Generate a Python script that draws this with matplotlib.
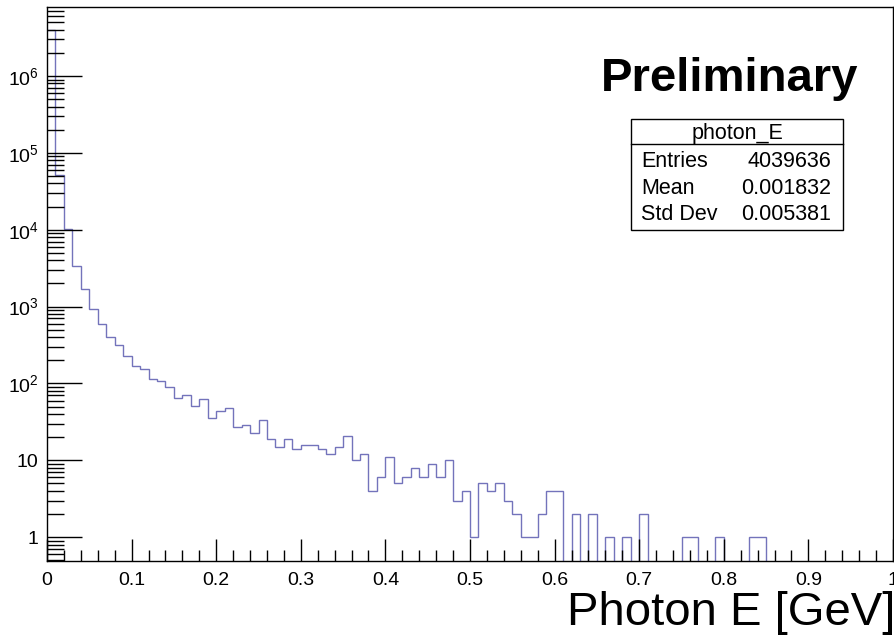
import numpy as np
import matplotlib
matplotlib.use("Agg")
import matplotlib.pyplot as plt
from matplotlib.ticker import FixedLocator, FuncFormatter, LogLocator, NullFormatter

plt.rcParams["font.family"] = ["Liberation Sans", "DejaVu Sans"]

# photon_E histogram: 100 bins of 0.01 GeV from 0 to 1 (counts)
bin_edges = np.linspace(0.0, 1.0, 101)
counts = [
    3970000, 51700, 10150, 3410, 1680, 931, 589, 406, 319, 230,
    170, 153, 116, 107, 91, 65, 70, 51, 62, 36,
    44, 48, 27, 29, 23, 33, 19, 15, 19, 14,
    16, 16, 14, 12, 15, 21, 10, 12, 4, 6,
    11, 5, 6, 8, 6, 9, 6, 10, 3, 4,
    1, 5, 4, 5, 3, 2, 1, 1, 2, 4,
    4, 0, 2, 0, 2, 0, 1, 0, 1, 0,
    2, 0, 0, 0, 0, 1, 1, 0, 0, 1,
    0, 0, 0, 1, 1, 0, 0, 0, 0, 0,
    0, 0, 0, 0, 0, 0, 0, 0, 0, 0,
]
stats_title = "photon_E"
stats_rows = [("Entries", "4039636"), ("Mean", "0.001832"), ("Std Dev", "0.005381")]

x_ticks = [0, 0.1, 0.2, 0.3, 0.4, 0.5, 0.6, 0.7, 0.8, 0.9, 1.0]
x_ticklabels = ["0", "0.1", "0.2", "0.3", "0.4", "0.5", "0.6", "0.7", "0.8", "0.9", "1"]


def log_label(v, pos):
    n = int(round(np.log10(v)))
    if n == 0:
        return "1"
    if n == 1:
        return "10"
    return r"$\mathregular{10^{%d}}$" % n


fig = plt.figure(figsize=(8.94, 6.37), dpi=100)
ax = fig.add_axes([47 / 894, 76 / 637, 846 / 894, 554 / 637])

vals = np.array(counts, dtype=float)
# empty bins go below the axis like ROOT does on a log scale
vals = np.where(vals > 0, vals, 1e-3)
ax.stairs(vals, bin_edges, baseline=None, color="#7373bb", linewidth=1.0)

ax.set_yscale("log")
ax.set_xlim(0, 1)
ax.set_ylim(0.49, 7.9e6)

ax.xaxis.set_major_locator(FixedLocator(x_ticks))
ax.set_xticklabels(x_ticklabels)
ax.xaxis.set_minor_locator(FixedLocator(np.arange(0, 1.001, 0.02)))
ax.yaxis.set_major_locator(LogLocator(base=10, numticks=20))
ax.yaxis.set_minor_locator(LogLocator(base=10, subs=np.arange(2, 10), numticks=20))
ax.yaxis.set_major_formatter(FuncFormatter(log_label))
ax.yaxis.set_minor_formatter(NullFormatter())

ax.tick_params(axis="both", which="both", direction="in", top=False, right=False,
               labelsize=14, width=1.0, color="black")
ax.tick_params(axis="x", which="major", length=16, pad=8)
ax.tick_params(axis="x", which="minor", length=8)
ax.tick_params(axis="y", which="major", length=25, pad=6)
ax.tick_params(axis="y", which="minor", length=12)
for s in ax.spines.values():
    s.set_linewidth(1.0)

# x title, right aligned at the end of the axis
fig.text(895 / 894, 1 - 625 / 637, "Photon E [GeV]", ha="right", va="baseline", fontsize=34)

# Preliminary label
fig.text(858 / 894, 1 - 91 / 637, "Preliminary", ha="right", va="baseline",
         fontsize=34, fontweight="bold")

# stats box
bx0, bx1 = 631 / 894, 843 / 894
by_top, by_bot = 1 - 119 / 637, 1 - 230 / 637
by_div = 1 - 144 / 637
box = plt.Rectangle((bx0, by_bot), bx1 - bx0, by_top - by_bot, transform=fig.transFigure,
                    facecolor="white", edgecolor="black", linewidth=1.0)
fig.patches.append(box)
fig.add_artist(plt.Line2D([bx0, bx1], [by_div, by_div], transform=fig.transFigure,
                          color="black", linewidth=1.0))
fig.text((bx0 + bx1) / 2, 1 - 139 / 637, stats_title, ha="center", va="baseline", fontsize=15.5)
row_base = [167, 194, 220]
for (name, val), yb in zip(stats_rows, row_base):
    fig.text(641 / 894, 1 - yb / 637, name, ha="left", va="baseline", fontsize=15.5)
    fig.text(831 / 894, 1 - yb / 637, val, ha="right", va="baseline", fontsize=15.5)

fig.savefig("out.png", dpi=100)
